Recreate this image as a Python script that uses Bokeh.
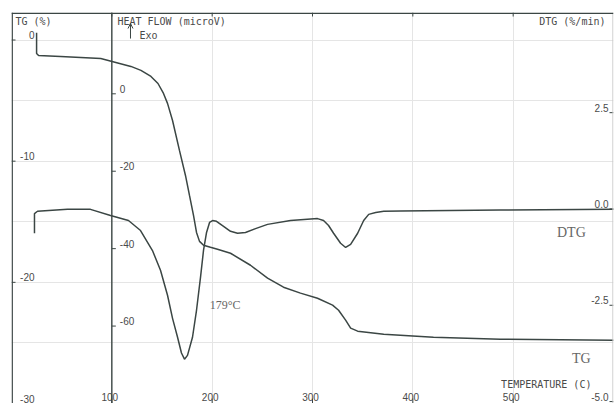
import numpy as np
from bokeh.plotting import figure
from bokeh.models import Range1d, Span, Arrow, OpenHead
from bokeh.core.properties import value
from bokeh.embed import file_html
from bokeh.resources import INLINE

# ---- data ----
temp_tg = [25, 25, 27, 49, 69, 89, 104, 119, 129, 139, 146, 151.5, 155.5, 160.5, 167.4, 173.4,
           177.4, 181.4, 184.4, 187.4, 191.4, 198.3, 205.3, 218.3, 238.2, 255.2, 271.1, 288, 305,
           320, 326, 333, 338, 345, 371, 420.6, 487.4, 600]
tg = [0.6, -1.11, -1.28, -1.36, -1.44, -1.53, -1.85, -2.18, -2.51, -3.01, -3.59, -4.41, -5.23,
      -6.64, -9.11, -11.18, -12.83, -14.47, -15.88, -16.62, -16.94, -17.11, -17.27, -17.60,
      -18.59, -19.66, -20.40, -20.89, -21.31, -21.88, -22.30, -23.12, -23.78, -24.03, -24.28,
      -24.53, -24.69, -24.77]

temp_dtg = [22.9, 22.9, 25.9, 55.8, 78.7, 98.7, 116.6, 128.6, 140.5, 148.5, 155.5, 160.5, 165.5,
            169.4, 172.4, 175.4, 180.4, 184.4, 188.4, 191.4, 194.4, 197.4, 200.4, 204.3, 210.3,
            218.3, 225.3, 233.2, 243.2, 255.2, 278.1, 305, 311, 316, 321, 328, 333, 338, 345,
            351, 356, 363, 371, 388, 487, 600]
dtg = [-0.63, -0.12, -0.06, -0.01, -0.01, -0.17, -0.30, -0.56, -1.08, -1.59, -2.24, -2.84, -3.33,
       -3.74, -3.90, -3.80, -3.33, -2.63, -1.77, -1.07, -0.61, -0.35, -0.30, -0.32, -0.43, -0.58,
       -0.63, -0.61, -0.51, -0.40, -0.30, -0.25, -0.30, -0.43, -0.63, -0.89, -1.00, -0.92, -0.63,
       -0.30, -0.14, -0.09, -0.06, -0.05, -0.03, -0.01]

tg_ticks = [0, -10, -20, -30]
tg_labels = ["0", "-10", "-20", "-30"]
hf_ticks = [0, -20, -40, -60]
hf_labels = ["0", "-20", "-40", "-60"]
dtg_ticks = [2.5, 0.0, -2.5, -5.0]
dtg_labels = ["2.5", "0.0", "-2.5", "-5.0"]
temp_ticks = [100, 200, 300, 400, 500]
temp_labels = ["100", "200", "300", "400", "500"]

T0, T1 = 0, 600
TG0, TG1 = -30, 2.27

ink = "#3b4644"
txt = "#4a4a4a"

p = figure(width=616, height=403, x_range=Range1d(T0, T1), y_range=Range1d(TG0, TG1),
           x_axis_location=None, y_axis_location=None,
           min_border_left=11, min_border_right=3, min_border_top=12, min_border_bottom=0,
           output_backend="svg", toolbar_location=None, outline_line_color=None,
           background_fill_color="white", border_fill_color="white")
p.extra_y_ranges = {"hf": Range1d(-80, 21), "dtg": Range1d(-5.05, 5.1)}

# frame lines (kept just inside the frame so they are not clipped)
p.add_layout(Span(location=T0 + 0.7, dimension="height", line_color=ink, line_width=1.4))
p.add_layout(Span(location=T1 - 0.6, dimension="height", line_color="#c8c8c8", line_width=1))
p.add_layout(Span(location=TG1 - 0.06, dimension="width", line_color=ink, line_width=1.3))
p.add_layout(Span(location=100, dimension="height", line_color=ink, line_width=1.4))

# curves
p.line(temp_tg, tg, line_color=ink, line_width=1.5)
p.line(temp_dtg, dtg, y_range_name="dtg", line_color=ink, line_width=1.5)

# ticks
p.ray(x=[T0] * len(tg_ticks), y=tg_ticks, length=4, length_units="screen", angle=0,
      line_color=ink, line_width=1)
p.ray(x=[100] * len(hf_ticks), y=hf_ticks, y_range_name="hf", length=4, length_units="screen",
      angle=0, line_color=ink, line_width=1)
p.ray(x=[T1] * len(dtg_ticks), y=dtg_ticks, y_range_name="dtg", length=4, length_units="screen",
      angle=np.pi, line_color=ink, line_width=1)
p.ray(x=temp_ticks, y=[TG0] * len(temp_ticks), length=5, length_units="screen", angle=np.pi / 2,
      line_color=ink, line_width=1)
p.ray(x=temp_ticks, y=[TG1] * len(temp_ticks), length=4, length_units="screen", angle=-np.pi / 2,
      line_color=ink, line_width=1)

num_font = value("Liberation Sans")
num_size = value("10px")
p.text(x=[T0] * len(tg_ticks), y=tg_ticks, text=tg_labels, text_align="right",
       text_baseline="bottom", x_offset=23, y_offset=-1, text_font=num_font,
       text_font_size=num_size, text_color=txt)
p.text(x=[100] * len(hf_ticks), y=hf_ticks, y_range_name="hf", text=hf_labels, text_align="left",
       text_baseline="bottom", x_offset=8, y_offset=-1, text_font=num_font,
       text_font_size=num_size, text_color=txt)
p.text(x=[T1] * len(dtg_ticks), y=dtg_ticks, y_range_name="dtg", text=dtg_labels,
       text_align="right", text_baseline="bottom", x_offset=-5, y_offset=-1, text_font=num_font,
       text_font_size=num_size, text_color=txt)
p.text(x=temp_ticks, y=[TG0] * len(temp_ticks), text=temp_labels, text_align="center",
       text_baseline="bottom", x_offset=-2, y_offset=-3, text_font=num_font,
       text_font_size=num_size, text_color=txt)

mono = value("DejaVu Sans Mono")
msize = value("10px")
p.text(x=[4], y=[1.53], text=["TG (%)"], text_align="left", text_baseline="middle",
       text_font=mono, text_font_size=msize, text_color=txt)
p.text(x=[105.6], y=[1.53], text=["HEAT FLOW (microV)"], text_align="left", text_baseline="middle",
       text_font=mono, text_font_size=msize, text_color=txt)
p.text(x=[592], y=[1.53], text=["DTG (%/min)"], text_align="right", text_baseline="middle",
       text_font=mono, text_font_size=msize, text_color=txt)
p.text(x=[127.6], y=[0.37], text=["Exo"], text_align="left", text_baseline="middle",
       text_font=mono, text_font_size=msize, text_color=txt)
p.text(x=[533], y=[-28.43], text=["TEMPERATURE (C)"], text_align="center", text_baseline="middle",
       text_font=mono, text_font_size=msize, text_color=txt)
p.add_layout(Arrow(x_start=118.6, y_start=0.12, x_end=118.6, y_end=1.36,
                   end=OpenHead(size=5, line_color=ink, line_width=1),
                   line_color=ink, line_width=1))

serif = value("Liberation Serif")
p.text(x=[213], y=[-21.91], text=["179°C"], text_align="center", text_baseline="middle",
       text_font=serif, text_font_size=value("12px"), text_color="#666666")
p.text(x=[558], y=[-15.89], text=["DTG"], text_align="center", text_baseline="middle",
       text_font=serif, text_font_size=value("14px"), text_color="#666666")
p.text(x=[568], y=[-26.28], text=["TG"], text_align="center", text_baseline="middle",
       text_font=serif, text_font_size=value("14px"), text_color="#666666")

open("out.html", "w").write(file_html(p, INLINE))
